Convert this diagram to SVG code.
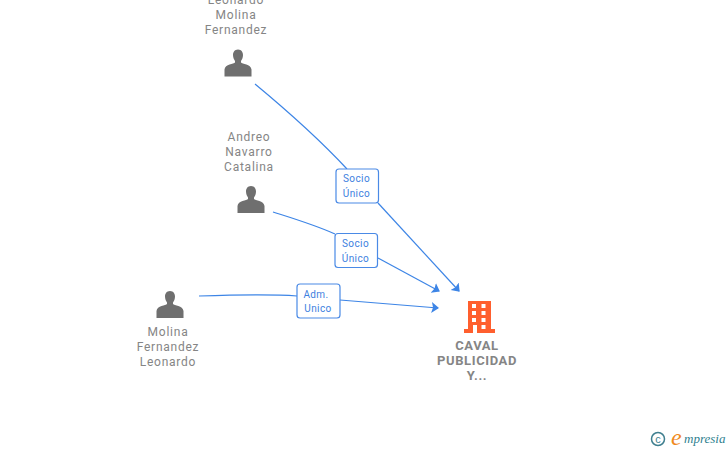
<svg xmlns="http://www.w3.org/2000/svg" width="728" height="450" viewBox="0 0 728 450">
<style>
.n{font:12px Roboto,"Liberation Sans",sans-serif;fill:#858585;text-anchor:middle;letter-spacing:.75px}
.b{font:bold 13px Roboto,"Liberation Sans",sans-serif;fill:#858585;text-anchor:middle;letter-spacing:.6px}
.l{font:10px Roboto,"Liberation Sans",sans-serif;fill:#3d7fe0;text-anchor:middle;letter-spacing:.4px}
.e{fill:none;stroke:#3d85e6;stroke-width:1.2}
.box{fill:#fff;stroke:#4a8ae6;stroke-width:1.2}
.p{fill:#6f6f6f}
</style>
<defs>
<path id="person" d="M0-15C-3.600-15-5-12-5-9.500C-5-7-4-4.800-3-3.500V-2C-4-0.500-13-0.500-13.500 5V12H13.500V5C13-0.500 4-0.500 3-2V-3.500C4-4.800 5-7 5-9.500C5-12 3.600-15 0-15Z"/>
<marker id="a" markerWidth="12" markerHeight="12" refX="6.500" refY="5.500" orient="auto" markerUnits="userSpaceOnUse"><path d="M0 0L7.500 5.500L0 11L1.500 5.500Z" fill="#3d85e6"/></marker>
</defs>
<g id="connectors">
<path class="e" d="M255 84C290 113 320 140 347 169"/>
<path class="e" d="M378 203L459 291" marker-end="url(#a)"/>
<path class="e" d="M273 212C295 219 315 225 335 234"/>
<path class="e" d="M378 258L439 291" marker-end="url(#a)"/>
<path class="e" d="M199 296C230 295 270 294 297 296"/>
<path class="e" d="M340 300L438 308" marker-end="url(#a)"/>
</g>
<g id="edge-label-1"><rect class="box" x="336" y="169" width="42.500" height="34" rx="3"/><text class="l" x="356.500" y="182">Socio</text><text class="l" x="356.500" y="197">Único</text></g>
<g id="edge-label-2"><rect class="box" x="335" y="233.500" width="42.500" height="34" rx="3"/><text class="l" x="355.500" y="247">Socio</text><text class="l" x="355.500" y="262">Único</text></g>
<g id="edge-label-3"><rect class="box" x="297" y="284" width="43" height="34" rx="3"/><text class="l" x="316" y="298">Adm.</text><text class="l" x="318" y="312">Unico</text></g>
<g id="node-leonardo"><text class="n" x="236" y="4">Leonardo</text><text class="n" x="236" y="19">Molina</text><text class="n" x="236" y="34">Fernandez</text><use href="#person" class="p" x="238" y="64.500"/></g>
<g id="node-andreo"><text class="n" x="249" y="141">Andreo</text><text class="n" x="249" y="156">Navarro</text><text class="n" x="249" y="171">Catalina</text><use href="#person" class="p" x="251" y="201"/></g>
<g id="node-molina"><text class="n" x="168" y="336">Molina</text><text class="n" x="168" y="351">Fernandez</text><text class="n" x="168" y="366">Leonardo</text><use href="#person" class="p" x="170" y="306"/></g>
<g id="node-caval"><path fill="#ff5f2e" fill-rule="evenodd" d="M468 301H491V329H495V333H464V329H468ZM472 304V308H476V304ZM481.500 304V308H485.500V304ZM472 311V315H476V311ZM481.500 311V315H485.500V311ZM472 318V322H476V318ZM481.500 318V322H485.500V318ZM473 325V333H477V325ZM481.500 325V329H485.500V325Z"/><text class="b" x="477" y="350">CAVAL</text><text class="b" x="477" y="365">PUBLICIDAD</text><text class="b" x="477" y="380">Y...</text></g>
<g id="brand"><circle cx="658" cy="439" r="6.500" fill="none" stroke="#3f7f8f" stroke-width="1.500"/><text x="658" y="442.500" font-family="Liberation Sans,sans-serif" font-size="11" fill="#3f7f8f" text-anchor="middle">c</text><text x="671" y="445" font-family="Liberation Serif,serif" font-style="italic" font-size="24" fill="#f08a1d">e</text><text x="684" y="443" font-family="Liberation Serif,serif" font-style="italic" font-size="13" fill="#2f7f8f">mpresia</text></g>
</svg>
